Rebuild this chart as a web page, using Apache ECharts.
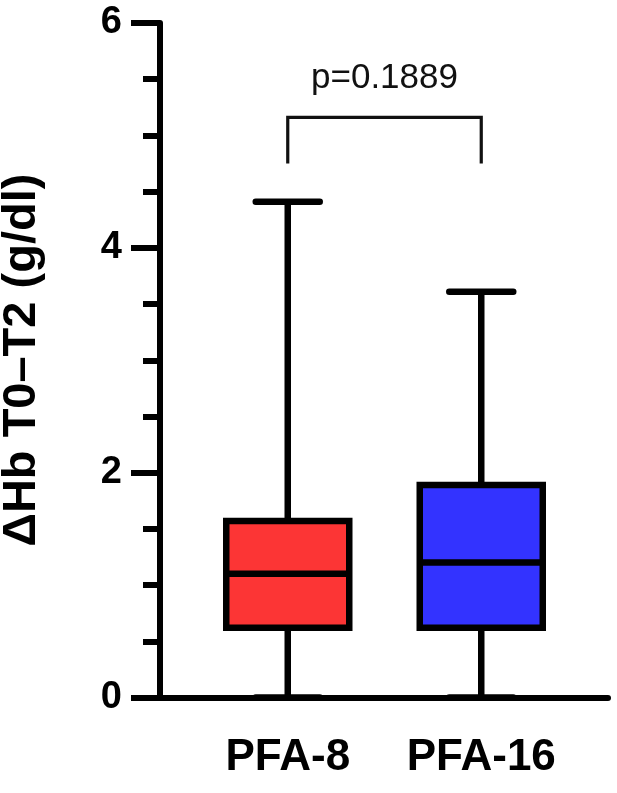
<!DOCTYPE html>
<html>
<head>
<meta charset="utf-8">
<script src="https://cdn.jsdelivr.net/npm/echarts@6/dist/echarts.min.js"></script>
<style>
  html, body { margin: 0; padding: 0; background: #fff; }
  #chart { width: 617px; height: 793px; }
</style>
</head>
<body>
<div id="chart"></div>
<script>
// data
const groups = ['PFA-8', 'PFA-16'];
const mins = [0, 0];
const q1s = [0.62, 0.62];
const medians = [1.10, 1.20];
const q3s = [1.57, 1.89];
const maxs = [4.41, 3.61];
const boxColors = ['#FC3535', '#3333FF'];
const yTicks = [0, 2, 4, 6];

// significance bracket
const bracketTop = 5.16;
const bracketLeg = 4.75;
const pLabel = 'p=0.1889';

const font = "'Liberation Sans', Arial, sans-serif";

const boxData = groups.map((g, i) => [i, mins[i], q1s[i], medians[i], q3s[i], maxs[i]]);

const myChart = echarts.init(document.getElementById('chart'));

function renderBox(params, api) {
  const i = api.value(0);
  const x = api.coord([i, 0])[0];
  const yMin = api.coord([i, api.value(1)])[1];
  const yQ1 = api.coord([i, api.value(2)])[1];
  const yMed = api.coord([i, api.value(3)])[1];
  const yQ3 = api.coord([i, api.value(4)])[1];
  const yMax = api.coord([i, api.value(5)])[1];
  const half = 61.5;
  const capHalf = 32;
  const lw = 6.5;
  const ls = { stroke: '#000', lineWidth: lw, lineCap: 'round' };
  return {
    type: 'group',
    children: [
      { type: 'line', shape: { x1: x, y1: yQ1, x2: x, y2: yMin }, style: { stroke: '#000', lineWidth: lw } },
      { type: 'line', shape: { x1: x, y1: yQ3, x2: x, y2: yMax }, style: { stroke: '#000', lineWidth: lw } },
      { type: 'line', shape: { x1: x - capHalf, y1: yMax, x2: x + capHalf, y2: yMax }, style: ls },
      { type: 'line', shape: { x1: x - capHalf, y1: yMin, x2: x + capHalf, y2: yMin }, style: ls },
      {
        type: 'rect',
        shape: { x: x - half, y: yQ3, width: half * 2, height: yQ1 - yQ3 },
        style: { fill: boxColors[i], stroke: '#000', lineWidth: lw }
      },
      { type: 'line', shape: { x1: x - half, y1: yMed, x2: x + half, y2: yMed }, style: { stroke: '#000', lineWidth: lw } }
    ]
  };
}

function renderBracket(params, api) {
  const p0 = api.coord([0, bracketLeg]);
  const p1 = api.coord([0, bracketTop]);
  const p2 = api.coord([1, bracketTop]);
  const p3 = api.coord([1, bracketLeg]);
  return {
    type: 'group',
    children: [
      {
        type: 'polyline',
        shape: { points: [p0, p1, p2, p3] },
        style: { stroke: '#111', lineWidth: 3.2, fill: null }
      },
      {
        type: 'text',
        x: (p1[0] + p2[0]) / 2,
        y: p1[1] - 39,
        style: {
          text: pLabel, font: '35px ' + font, fill: '#111',
          textAlign: 'center', textVerticalAlign: 'middle'
        }
      }
    ]
  };
}

let option = {
  animation: false,
  grid: [
    { left: 160, right: 9, top: 23, bottom: 95.5, outerBoundsMode: 'none' },
    { left: 191, right: 39, top: 23, bottom: 95.5, outerBoundsMode: 'none' }
  ],
  xAxis: [
    {
      // axis line only
      gridIndex: 0,
      type: 'category',
      data: [''],
      axisLine: { lineStyle: { color: '#000', width: 6 } },
      axisTick: { show: false },
      axisLabel: { show: false }
    },
    {
      gridIndex: 1,
      type: 'category',
      data: groups,
      axisLine: { show: false },
      axisTick: { show: false },
      axisLabel: {
        interval: 0, hideOverlap: false,
        color: '#000', fontSize: 44, fontWeight: 'bold', fontFamily: font, margin: 38
      }
    }
  ],
  yAxis: [
    {
      gridIndex: 0,
      type: 'value',
      min: 0,
      max: 6,
      interval: 2,
      name: 'ΔHb T0–T2 (g/dl)',
      nameLocation: 'middle',
      nameGap: 114,
      nameTextStyle: { color: '#000', fontSize: 47, fontWeight: 'bold', fontFamily: font },
      axisLine: { show: true, lineStyle: { color: '#000', width: 6 } },
      axisTick: { show: true, length: 29, lineStyle: { color: '#000', width: 6 } },
      minorTick: { show: true, splitNumber: 4, length: 17, lineStyle: { color: '#000', width: 6 } },
      splitLine: { show: false },
      axisLabel: {
        color: '#000', fontSize: 38, fontWeight: 'bold', fontFamily: font, margin: 38,
        formatter: v => (yTicks.indexOf(v) >= 0 ? String(v) : '')
      }
    },
    {
      gridIndex: 1,
      type: 'value',
      min: 0,
      max: 6,
      show: false
    }
  ],
  series: [
    {
      type: 'custom',
      xAxisIndex: 1,
      yAxisIndex: 1,
      renderItem: renderBox,
      data: boxData,
      z: 3
    },
    {
      type: 'custom',
      xAxisIndex: 1,
      yAxisIndex: 1,
      renderItem: renderBracket,
      data: [[0, bracketTop]],
      z: 3
    }
  ]
};

myChart.setOption(option);
</script>
</body>
</html>
